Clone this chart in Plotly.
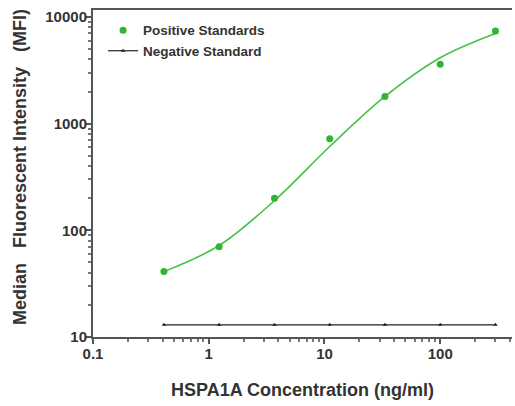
import plotly.graph_objects as go

# Data
conc = [0.41, 1.23, 3.7, 11.1, 33.3, 100, 300]
positive_mfi = [41, 70, 200, 720, 1800, 3600, 7400]
curve_mfi = [41, 72, 190, 610, 1800, 4150, 7000]
negative_mfi = [13, 13, 13, 13, 13, 13, 13]

green = "#2fb52f"
font_family = "Liberation Sans, Arial, sans-serif"

fig = go.Figure()
fig.add_trace(go.Scatter(
    x=conc, y=curve_mfi, mode="lines", line=dict(color="#45c245", width=1.6, shape="spline", smoothing=1.0),
    showlegend=False, hoverinfo="skip"))
fig.add_trace(go.Scatter(
    x=conc, y=positive_mfi, mode="markers", name="Positive Standards",
    marker=dict(color=green, size=7, symbol="circle")))
fig.add_trace(go.Scatter(
    x=conc, y=negative_mfi, mode="lines+markers", name="Negative Standard",
    line=dict(color="#222222", width=1.2),
    marker=dict(color="#222222", size=4, symbol="triangle-up")))

fig.update_layout(
    width=515, height=406,
    margin=dict(l=93, r=3, t=10, b=69, autoexpand=False),
    paper_bgcolor="white", plot_bgcolor="white",
    font=dict(family=font_family, size=12, color="#222222"),
    legend=dict(x=0.024, y=0.985, xanchor="left", yanchor="top",
                bgcolor="rgba(0,0,0,0)", font=dict(size=13.5, color="#333333", weight="bold"),
                itemwidth=30, tracegroupgap=0),
    annotations=[dict(
        text="Median   Fluorescent Intensity   (MFI)", textangle=-90,
        xref="paper", yref="paper", x=-0.174, y=0.52, xanchor="center", yanchor="middle",
        showarrow=False, font=dict(size=18, weight="bold", color="#333333"))],
)
fig.update_xaxes(
    type="log", range=[-1, 2.62], automargin=False,
    showgrid=False, zeroline=False,
    showline=True, linecolor="#555555", linewidth=2, mirror=True,
    ticks="outside", ticklen=5, tickwidth=1.5, tickcolor="#555555",
    tickvals=[0.1, 1, 10, 100], ticktext=["0.1", "1", "10", "100"],
    tickfont=dict(size=15, weight="bold", color="#333333"), ticklabelstandoff=-3,
    minor=dict(ticks="outside", ticklen=3, tickcolor="#777777", dtick="D1", showgrid=False),
    title=dict(text="HSPA1A Concentration (ng/ml)", font=dict(size=18, weight="bold", color="#333333"), standoff=22),
)
fig.update_yaxes(
    type="log", range=[1, 4.065], automargin=False,
    showgrid=False, zeroline=False,
    showline=True, linecolor="#555555", linewidth=2,
    ticks="outside", ticklen=5, tickwidth=1.5, tickcolor="#555555",
    tickvals=[10, 100, 1000, 10000], ticktext=["10", "100", "1000", "10000"],
    tickfont=dict(size=15, weight="bold", color="#333333"), ticklabelstandoff=-4,
    minor=dict(ticks="outside", ticklen=3, tickcolor="#777777", dtick="D1", showgrid=False),
)

fig.write_html("out.html", post_script="document.body.style.margin='0';",
               config={"displayModeBar": False})
